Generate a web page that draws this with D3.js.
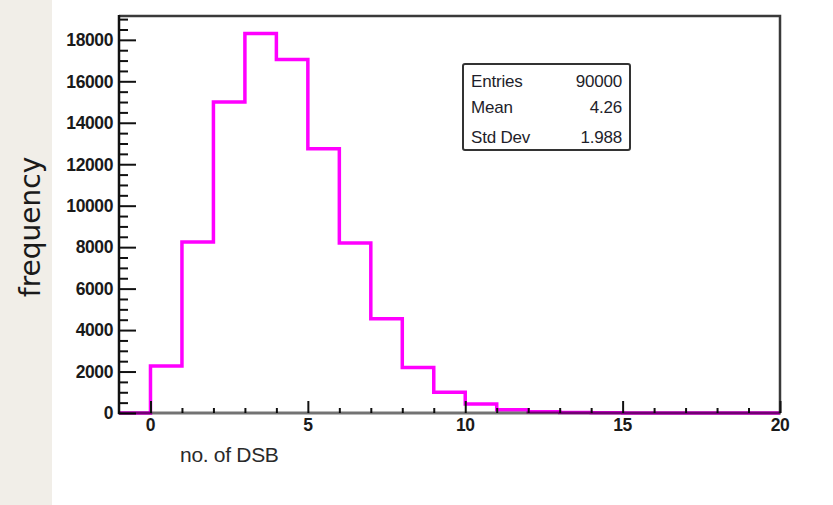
<!DOCTYPE html>
<html>
<head>
<meta charset="utf-8">
<script src="https://cdn.jsdelivr.net/npm/d3@7"></script>
<style>
  html, body { margin: 0; padding: 0; background: #ffffff; }
  svg { display: block; }
</style>
</head>
<body>
<svg id="chart" width="833" height="505"></svg>
<script>
// ---- data ----
const binEdges = [-1,0,1,2,3,4,5,6,7,8,9,10,11,12,13,14,15,16,17,18,19,20];
const counts = [0, 2270, 8250, 15000, 18300, 17050, 12750, 8200, 4550, 2200, 1000, 430, 160, 60, 20, 8, 3, 1, 0, 0, 0];
const xTickLabels = [0, 5, 10, 15, 20];
const yTickLabels = [0, 2000, 4000, 6000, 8000, 10000, 12000, 14000, 16000, 18000];
const statNames = ["Entries", "Mean", "Std Dev"];
const statValues = ["90000", "4.26", "1.988"];
const xTitle = "no. of DSB";
const yTitle = "frequency";

// ---- layout ----
const svg = d3.select("#chart");
const L = 119, R = 780, T = 16, B = 413;
const x = d3.scaleLinear().domain([-1, 20]).range([L, R]);
const y = d3.scaleLinear().domain([0, 19150]).range([B, T]);

// left beige panel
svg.append("rect").attr("x", 0).attr("y", 0).attr("width", 52).attr("height", 505).attr("fill", "#f1eee8");

// y title
svg.append("text")
  .attr("transform", "translate(40,227) rotate(-90)")
  .attr("text-anchor", "middle")
  .attr("font-family", "'DejaVu Sans', sans-serif")
  .attr("font-size", 28)
  .attr("fill", "#1a1a1a")
  .text(yTitle);

// histogram step path
const pts = [];
counts.forEach((c, i) => {
  pts.push([x(binEdges[i]), y(c)]);
  pts.push([x(binEdges[i + 1]), y(c)]);
});
svg.append("path")
  .attr("d", d3.line()(pts))
  .attr("fill", "none")
  .attr("stroke", "#ff00ff")
  .attr("stroke-width", 3.5)
  .attr("stroke-linejoin", "miter");

// frame top/right
svg.append("path")
  .attr("d", `M${L},${T}H${R}V${B}`)
  .attr("fill", "none").attr("stroke", "#3a3a3a").attr("stroke-width", 2.5);

// y axis
const yAxis = d3.axisRight(y).tickValues(d3.range(0, 19150, 500)).tickSize(9).tickFormat("");
const gy = svg.append("g").attr("transform", `translate(${L},0)`).call(yAxis);
gy.select(".domain").remove();
gy.selectAll(".tick line").attr("stroke", "#111").attr("stroke-width", 2)
  .attr("x2", d => (d % 2000 === 0 ? 17 : 9));
svg.append("line").attr("x1", L).attr("x2", L).attr("y1", T - 1).attr("y2", B + 1)
  .attr("stroke", "#111").attr("stroke-width", 2.5);
svg.append("g").selectAll("text").data(yTickLabels).join("text")
  .attr("x", L - 6).attr("y", d => y(d)).attr("dy", "0.36em")
  .attr("text-anchor", "end")
  .attr("font-family", "Arial, 'Liberation Sans', sans-serif")
  .attr("font-weight", "bold").attr("font-size", 17.5).attr("fill", "#1a1a1a")
  .attr("letter-spacing", -0.4)
  .text(d => d);

// x axis
const xAxis = d3.axisTop(x).tickValues(d3.range(0, 21, 1)).tickSize(5).tickFormat("");
const gx = svg.append("g").attr("transform", `translate(0,${B})`).call(xAxis);
gx.select(".domain").remove();
gx.selectAll(".tick line").attr("stroke", "#111").attr("stroke-width", 2)
  .attr("y2", d => (d % 5 === 0 ? -12 : -5));
svg.append("line").attr("x1", L - 1).attr("x2", R + 1).attr("y1", B).attr("y2", B)
  .attr("stroke", "#000").attr("stroke-width", 3).attr("stroke-opacity", 0.55);
svg.append("g").selectAll("text").data(xTickLabels).join("text")
  .attr("x", d => x(d)).attr("y", B + 18)
  .attr("text-anchor", "middle")
  .attr("font-family", "Arial, 'Liberation Sans', sans-serif")
  .attr("font-weight", "bold").attr("font-size", 17.5).attr("fill", "#1a1a1a")
  .attr("letter-spacing", -0.4)
  .text(d => d);

// x title
svg.append("text")
  .attr("x", 180).attr("y", 462)
  .attr("font-family", "Arial, 'Liberation Sans', sans-serif")
  .attr("font-size", 21).attr("fill", "#2a2a2a")
  .attr("letter-spacing", -0.3)
  .text(xTitle);

// stats box
svg.append("rect").attr("x", 463).attr("y", 64).attr("width", 167).attr("height", 86)
  .attr("rx", 2).attr("fill", "#fff").attr("stroke", "#333").attr("stroke-width", 2);
const rowY = [87, 113, 143];
svg.append("g").selectAll("text").data(statNames).join("text")
  .attr("x", 471).attr("y", (d, i) => rowY[i])
  .attr("font-family", "Arial, 'Liberation Sans', sans-serif")
  .attr("font-size", 17).attr("letter-spacing", -0.2).attr("fill", "#1e1e2a")
  .text(d => d);
svg.append("g").selectAll("text").data(statValues).join("text")
  .attr("x", 622).attr("y", (d, i) => rowY[i])
  .attr("text-anchor", "end")
  .attr("font-family", "Arial, 'Liberation Sans', sans-serif")
  .attr("font-size", 17).attr("letter-spacing", -0.2).attr("fill", "#1e1e2a")
  .text(d => d);
</script>
</body>
</html>
